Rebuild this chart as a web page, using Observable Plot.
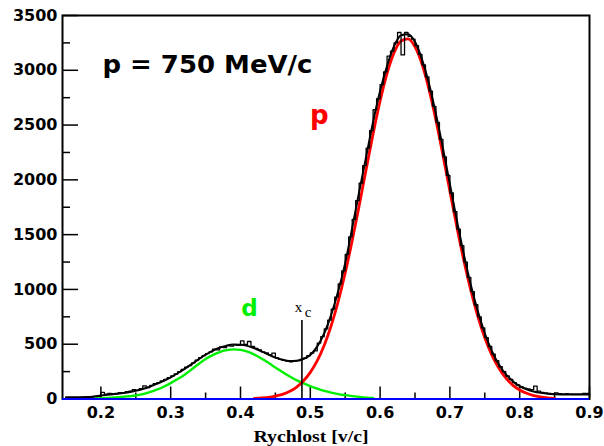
<!DOCTYPE html>
<html><head><meta charset="utf-8">
<script src="https://cdn.jsdelivr.net/npm/d3@7"></script>
<script src="https://cdn.jsdelivr.net/npm/@observablehq/plot@0.6"></script>
<style>
html,body{margin:0;padding:0;background:#fff;}
#chart svg{display:block;}
</style></head><body><div id="chart"></div>
<script>
// ---------- data ----------
// histogram: bin left edges start at 0.150, bin width 0.005 (150 bins up to 0.900)
const histStart = 0.15, histStep = 0.005;
const histCounts = [
  12,10,12,10,14,12,15,18,22,25,
  60,45,52,48,50,58,55,68,72,85,
  78,95,120,105,125,140,150,165,180,195,
  210,228,250,270,290,305,330,355,378,395,
  415,430,455,448,475,470,488,482,495,490,
  530,498,525,480,462,448,430,420,405,418,
  375,362,352,345,340,345,350,362,372,395,
  420,440,510,570,640,720,820,930,1050,1170,
  1320,1480,1640,1810,1970,2130,2290,2450,2640,2740,
  2870,2985,3130,3175,3250,3345,3140,3345,3310,3285,
  3225,3145,3050,2940,2810,2670,2525,2370,2210,2040,
  1880,1710,1550,1400,1250,1110,980,860,750,650,
  560,480,410,350,295,250,210,180,150,128,
  112,100,92,85,118,72,60,55,50,48,
  55,48,45,48,45,45,45,45,50,50
];
// total fit (black smooth), 0.15 .. 0.90 step 0.01
const totalStart = 0.15;
const totalFit = [
  15,15,16,18,24,33,39,45,52,62,
  75,92,112,138,165,198,235,275,318,362,
  405,440,468,487,497,496,485,463,435,405,
  378,358,346,348,365,402,480,600,770,985,
  1240,1560,1890,2210,2530,2810,3040,3220,3320,3330,
  3260,3100,2880,2600,2290,1960,1630,1320,1040,800,
  600,440,318,228,163,118,88,68,56,48,
  44,42,41,40,40,40
];
// proton fit (red), 0.42 .. 0.85 step 0.01
const protonStart = 0.42;
const protonFit = [
  5,9,15,26,42,68,107,164,243,350,
  491,671,891,1150,1444,1764,2095,2421,2720,2973,
  3161,3268,3286,3214,3057,2828,2545,2227,1896,1570,
  1264,990,754,558,402,282,192,127,82,52,
  31,19,11,6
];
// deuteron fit (green), 0.19 .. 0.59 step 0.01
const deuteronStart = 0.19;
const deuteronFit = [
  4,7,10,14,19,25,32,45,62,85,
  112,145,182,222,270,320,365,400,428,446,
  453,448,432,405,370,330,288,246,207,172,
  145,118,94,74,58,45,35,26,19,13,
  9
];
const fitStep = 0.01;

// cut position
const xCut = 0.488;
const xCutTop = 716;

// axis ticks
const xMajor = [0.2, 0.3, 0.4, 0.5, 0.6, 0.7, 0.8, 0.9];
const xMinor = [0.25, 0.35, 0.45, 0.55, 0.65, 0.75, 0.85];
const yMajor = [0, 500, 1000, 1500, 2000, 2500, 3000, 3500];
const yMinor = [250, 750, 1250, 1750, 2250, 2750, 3250];

// texts
const titleText = "p = 750 MeV/c";
const axisTitle = "Rychlost [v/c]";
const protonLabel = "p";
const deuteronLabel = "d";
const cutLabel = "x";
const cutSub = "c";

// ---------- build series ----------
const toSeries = (start, step, vals) => vals.map((v, i) => ({x: +(start + i * step).toFixed(4), y: v}));
const hist = toSeries(histStart, histStep, histCounts);
hist.push({x: 0.9, y: histCounts[histCounts.length - 1]});
const total = toSeries(totalStart, fitStep, totalFit);
const proton = toSeries(protonStart, fitStep, protonFit);
const deuteron = toSeries(deuteronStart, fitStep, deuteronFit);

const W = 604, H = 446;
const mL = 62, mR = 15, mT = 15, mB = 47.5;
const plotW = W - mL - mR, plotH = H - mT - mB;
const tickFont = {fontFamily: "DejaVu Sans", fontSize: 16, fontWeight: "bold"};

const chart = Plot.plot({
  width: W, height: H,
  marginLeft: mL, marginRight: mR, marginTop: mT, marginBottom: mB,
  x: {domain: [0.145, 0.9]},
  y: {domain: [0, 3500]},
  style: {background: "white", color: "black", overflow: "visible"},
  marks: [
    Plot.frame({stroke: "black", strokeWidth: 2}),
    Plot.tickY(yMajor, {y: d => d, stroke: "black", strokeWidth: 1.5, insetRight: plotW - 16}),
    Plot.tickY(yMinor, {y: d => d, stroke: "black", strokeWidth: 1.5, insetRight: plotW - 8}),
    Plot.tickX(xMajor, {x: d => d, stroke: "black", strokeWidth: 1.5, insetTop: plotH - 12}),
    Plot.tickX(xMinor, {x: d => d, stroke: "black", strokeWidth: 1.5, insetTop: plotH - 6}),
    Plot.axisY(yMajor, {tickSize: 0, tickPadding: 5, label: null, tickFormat: d => String(d), ...tickFont}),
    Plot.axisX(xMajor, {tickSize: 0, tickPadding: 8, label: null, tickFormat: d => d.toFixed(1), ...tickFont}),
    Plot.line(deuteron, {x: "x", y: "y", curve: "monotone-x", stroke: "#00ee00", strokeWidth: 2.4}),
    Plot.line(proton, {x: "x", y: "y", curve: "monotone-x", stroke: "#ff0000", strokeWidth: 2.8}),
    Plot.line(total, {x: "x", y: "y", curve: "monotone-x", stroke: "black", strokeWidth: 2}),
    Plot.line(hist, {x: "x", y: "y", curve: "step-after", stroke: "black", strokeWidth: 1.3}),
    Plot.ruleY([0], {stroke: "#0000ff", strokeWidth: 2}),
    Plot.ruleX([xCut], {y1: 0, y2: xCutTop, stroke: "black", strokeWidth: 1.6}),
    Plot.text([titleText], {x: 0.3527, y: 2976, text: d => d, lineAnchor: "bottom", textAnchor: "middle",
      fontFamily: "DejaVu Sans", fontSize: 24, fontWeight: "bold", fill: "black"}),
    Plot.text([protonLabel], {x: 0.513, y: 2514, text: d => d, lineAnchor: "bottom", textAnchor: "middle",
      fontFamily: "DejaVu Sans", fontSize: 26, fontWeight: "bold", fill: "#ff0000"}),
    Plot.text([deuteronLabel], {x: 0.413, y: 762, text: d => d, lineAnchor: "bottom", textAnchor: "middle",
      fontFamily: "DejaVu Sans", fontSize: 23, fontWeight: "bold", fill: "#00ee00"}),
    Plot.text([cutLabel], {x: 0.483, y: 790, text: d => d, lineAnchor: "bottom", textAnchor: "middle",
      fontFamily: "Liberation Serif", fontSize: 15, fill: "black"}),
    Plot.text([cutSub], {x: 0.4967, y: 744, text: d => d, lineAnchor: "bottom", textAnchor: "middle",
      fontFamily: "Liberation Serif", fontSize: 15, fill: "black"}),
    Plot.text([axisTitle], {frameAnchor: "bottom", dx: -15, dy: 43, text: d => d, lineAnchor: "bottom", textAnchor: "middle",
      fontFamily: "Liberation Serif", fontSize: 16, fontWeight: "bold", fill: "black"})
  ]
});

d3.select(chart).selectAll("text").each(function () {
  const t = this.textContent;
  if (t === titleText) { this.setAttribute("textLength", 210); this.setAttribute("lengthAdjust", "spacingAndGlyphs"); }
  if (t === axisTitle) { this.setAttribute("textLength", 115); this.setAttribute("lengthAdjust", "spacingAndGlyphs"); }
});
document.getElementById("chart").appendChild(chart);
</script>
</body></html>
